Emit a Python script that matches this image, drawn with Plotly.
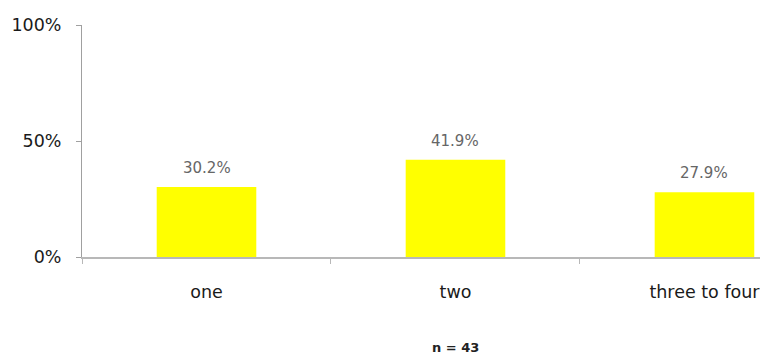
import plotly.graph_objects as go

categories = ["one", "two", "three to four"]
shares = [30.2, 41.9, 27.9]
y_ticks = [0, 50, 100]
y_tick_labels = ["0%", "50%", "100%"]
sample_note = "n = 43"

FONT = "DejaVu Sans, Liberation Sans, Arial, sans-serif"

fig = go.Figure()
fig.add_trace(go.Bar(
    x=categories,
    y=shares,
    width=0.4,
    marker=dict(color="#FFFF00", line=dict(width=0)),
    hoverinfo="skip",
))

# value labels above each bar
for c, v in zip(categories, shares):
    fig.add_annotation(
        x=c, y=v, text=f"{v:.1f}%", showarrow=False,
        yanchor="bottom", yshift=8,
        font=dict(family=FONT, size=15, color="#666666"),
    )

fig.add_annotation(
    x=1, y=-0.388, xref="x", yref="paper", yanchor="middle",
    text=sample_note, showarrow=False,
    font=dict(family=FONT, size=13, color="#222222", weight="bold"),
)

fig.update_layout(
    width=760, height=356,
    margin=dict(l=82, r=0, t=25, b=99),
    paper_bgcolor="white", plot_bgcolor="white",
    showlegend=False,
    font=dict(family=FONT, color="#222222"),
)
fig.update_xaxes(
    type="category",
    range=[-0.5, 2.223],
    showline=True, linecolor="#b8b8b8", linewidth=2,
    tickson="boundaries", ticks="outside", ticklen=5, tickcolor="#b8b8b8",
    tickfont=dict(family=FONT, size=17.5, color="#1a1a1a"),
    ticklabelstandoff=18,
    showgrid=False, zeroline=False,
)
fig.update_yaxes(
    range=[0, 100],
    tickvals=y_ticks, ticktext=y_tick_labels,
    showline=True, linecolor="#a0a0a0", linewidth=1,
    ticks="outside", ticklen=5, tickcolor="#a0a0a0",
    tickfont=dict(family=FONT, size=17.5, color="#1a1a1a"),
    ticklabelstandoff=11,
    showgrid=False, zeroline=False,
)

fig.write_html("out.html")
